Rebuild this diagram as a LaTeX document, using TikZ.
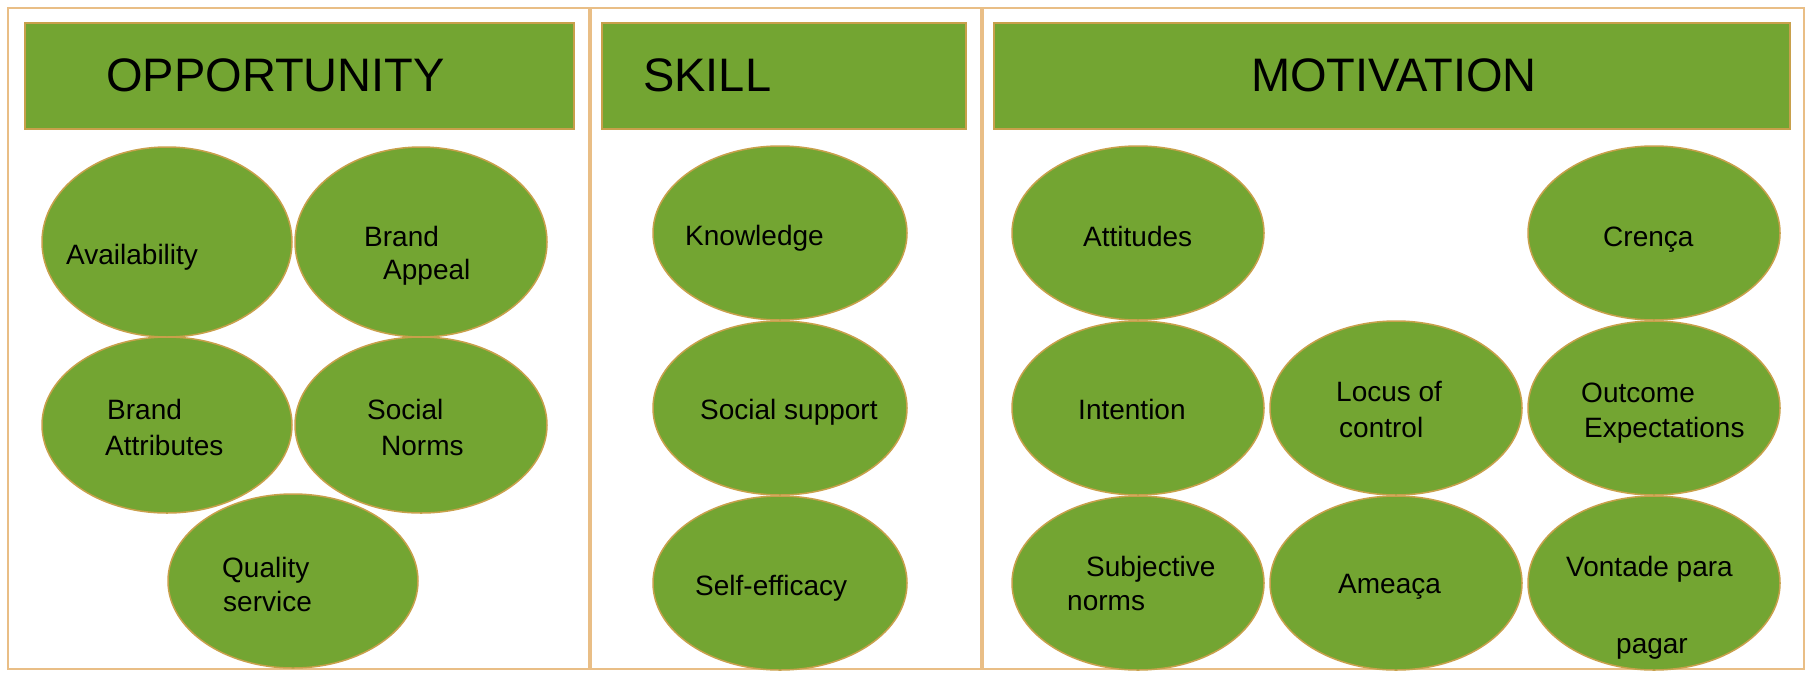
\documentclass[tikz,border=0pt]{standalone}
\usepackage{fontspec}
\setmainfont{Liberation Sans}
\usetikzlibrary{shapes.geometric}
\definecolor{leaf}{RGB}{115,165,50}
\definecolor{rim}{RGB}{200,160,75}
\definecolor{panelrim}{RGB}{233,190,134}
\tikzset{
  panel/.style={draw=panelrim, line width=2pt},
  header/.style={fill=leaf, draw=rim, line width=1.5pt},
  blob/.style={ellipse, fill=leaf, draw=rim, line width=1.5pt, inner sep=0pt},
  htext/.style={anchor=base west, inner sep=0pt, font=\fontsize{47}{50}\selectfont},
  btext/.style={anchor=base west, inner sep=0pt, font=\fontsize{28}{30}\selectfont},
}
\begin{document}
\begin{tikzpicture}[x=1pt,y=-1pt]
\useasboundingbox (0,0) rectangle (1811,672);
\fill[white] (0,0) rectangle (1811,672);
% panels
\draw[panel] (8,8) rectangle (589,669);
\draw[panel] (591,8) rectangle (981,669);
\draw[panel] (983,8) rectangle (1804,669);
% headers
\draw[header] (25,23) rectangle (574,129);
\draw[header] (602,23) rectangle (966,129);
\draw[header] (994,23) rectangle (1790,129);
\node[htext] (hopp) at (106,91) {OPPORTUNITY};
\node[htext] (hskill) at (643,91) {SKILL};
\node[htext] (hmot) at (1251,91) {MOTIVATION};
% panel 1
\node[blob, minimum width=250pt, minimum height=190pt] (avail) at (167,242) {};
\node[blob, minimum width=252pt, minimum height=190pt] (appeal) at (421,242) {};
\node[blob, minimum width=250pt, minimum height=176pt] (attr) at (167,425) {};
\node[blob, minimum width=252pt, minimum height=176pt] (norms) at (421,425) {};
\node[blob, minimum width=250pt, minimum height=174pt] (quality) at (293,581) {};
\node[btext] (tavail) at (66,264) {Availability};
\node[btext] (tbrand1) at (364,246) {Brand};
\node[btext] (tappeal) at (383,279) {Appeal};
\node[btext] (tbrand2) at (107,419) {Brand};
\node[btext] (tattr) at (105,455) {Attributes};
\node[btext] (tsocial) at (367,419) {Social};
\node[btext] (tnorms) at (381,455) {Norms};
\node[btext] (tqual) at (222,577) {Quality};
\node[btext] (tserv) at (223,611) {service};
% panel 2
\node[blob, minimum width=254pt, minimum height=174pt] (know) at (780,233) {};
\node[blob, minimum width=254pt, minimum height=174pt] (socsup) at (780,408) {};
\node[blob, minimum width=254pt, minimum height=174pt] (selfeff) at (780,583) {};
\node[btext] (tknow) at (685,245) {Knowledge};
\node[btext] (tsocsup) at (700,419) {Social support};
\node[btext] (tself) at (695,595) {Self-efficacy};
% panel 3
\node[blob, minimum width=252pt, minimum height=174pt] (attit) at (1138,233) {};
\node[blob, minimum width=252pt, minimum height=174pt] (crenca) at (1654,233) {};
\node[blob, minimum width=252pt, minimum height=174pt] (inten) at (1138,408) {};
\node[blob, minimum width=252pt, minimum height=174pt] (locus) at (1396,408) {};
\node[blob, minimum width=252pt, minimum height=174pt] (outc) at (1654,408) {};
\node[blob, minimum width=252pt, minimum height=174pt] (subj) at (1138,583) {};
\node[blob, minimum width=252pt, minimum height=174pt] (ameaca) at (1396,583) {};
\node[blob, minimum width=252pt, minimum height=174pt] (vontade) at (1654,583) {};
\node[btext] (tattit) at (1083,246) {Attitudes};
\node[btext] (tcrenca) at (1603,246) {Crença};
\node[btext] (tinten) at (1078,419) {Intention};
\node[btext] (tlocus1) at (1336,401) {Locus of};
\node[btext] (tlocus2) at (1339,437) {control};
\node[btext] (toutc1) at (1581,402) {Outcome};
\node[btext] (toutc2) at (1584,437) {Expectations};
\node[btext] (tsubj1) at (1086,576) {Subjective};
\node[btext] (tsubj2) at (1067,610) {norms};
\node[btext] (tamea) at (1338,593) {Ameaça};
\node[btext] (tvont) at (1566,576) {Vontade para};
\node[btext] (tpagar) at (1616,653) {pagar};
\end{tikzpicture}
\end{document}
